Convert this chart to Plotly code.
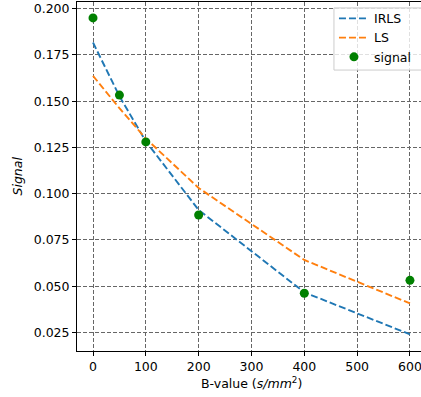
import plotly.graph_objects as go

b_values = [0, 50, 100, 200, 400, 600]
signal = [0.195, 0.1533, 0.1280, 0.0885, 0.0462, 0.0532]
irls_fit = [0.1817, 0.1527, 0.1283, 0.0912, 0.0467, 0.0240]
ls_fit = [0.1637, 0.1462, 0.1298, 0.1031, 0.0642, 0.0407]

x_ticks = [0, 100, 200, 300, 400, 500, 600]
y_ticks = [0.025, 0.050, 0.075, 0.100, 0.125, 0.150, 0.175, 0.200]

FONT = "DejaVu Sans"
FS = 12.5

fig = go.Figure()
fig.add_trace(go.Scatter(x=b_values, y=irls_fit, mode="lines", name="IRLS",
                         line=dict(color="#1f77b4", width=1.9, dash="7px,3px")))
fig.add_trace(go.Scatter(x=b_values, y=ls_fit, mode="lines", name="LS",
                         line=dict(color="#ff7f0e", width=1.9, dash="7px,3px")))
fig.add_trace(go.Scatter(x=b_values, y=signal, mode="markers", name="signal",
                         marker=dict(color="#008000", size=9)))

axis_common = dict(
    showline=True, linecolor="black", linewidth=1,
    ticks="outside", ticklen=4, tickwidth=1, tickcolor="black",
    showgrid=True, gridcolor="#666666", gridwidth=1, griddash="4px,2px",
    zeroline=False, automargin=False, ticklabeloverflow="allow",
    tickfont=dict(family=FONT, size=FS, color="black"),
)

fig.update_layout(
    width=421, height=397,
    margin=dict(l=77, r=0, t=2, b=46),
    paper_bgcolor="white", plot_bgcolor="white",
    font=dict(family=FONT, size=FS, color="black"),
    showlegend=True,
    legend=dict(x=0.747, y=0.995, xanchor="left", yanchor="top",
                bgcolor="rgba(0,0,0,0)", borderwidth=0,
                font=dict(family=FONT, size=FS, color="black"),
                tracegroupgap=0),
    shapes=[
        dict(type="rect", xref="paper", yref="paper", x0=0.747, x1=1.06, y0=0.805, y1=0.983,
             line=dict(color="#cccccc", width=1), fillcolor="rgba(255,255,255,0.8)",
             layer="above"),
    ],
    xaxis=dict(range=[-30.3, 620.9], tickvals=x_ticks, mirror=True, **axis_common),
    yaxis=dict(range=[0.015, 0.2036], tickvals=y_ticks, tickformat=".3f", mirror=False, **axis_common),
    annotations=[
        dict(text="B-value (<i>s/mm</i><sup>2</sup>)", xref="paper", yref="paper",
             x=0.507, y=-0.0908, xanchor="center", yanchor="middle", showarrow=False,
             font=dict(family=FONT, size=FS, color="black")),
        dict(text="<i>Signal</i>", xref="paper", yref="paper",
             x=-0.1744, y=0.5, xanchor="center", yanchor="middle", showarrow=False,
             textangle=-90, font=dict(family=FONT, size=FS, color="black")),
    ],
)

fig.write_html("out.html", config={"displayModeBar": False},
               post_script="document.body.style.margin='0';document.body.style.overflow='hidden';")
